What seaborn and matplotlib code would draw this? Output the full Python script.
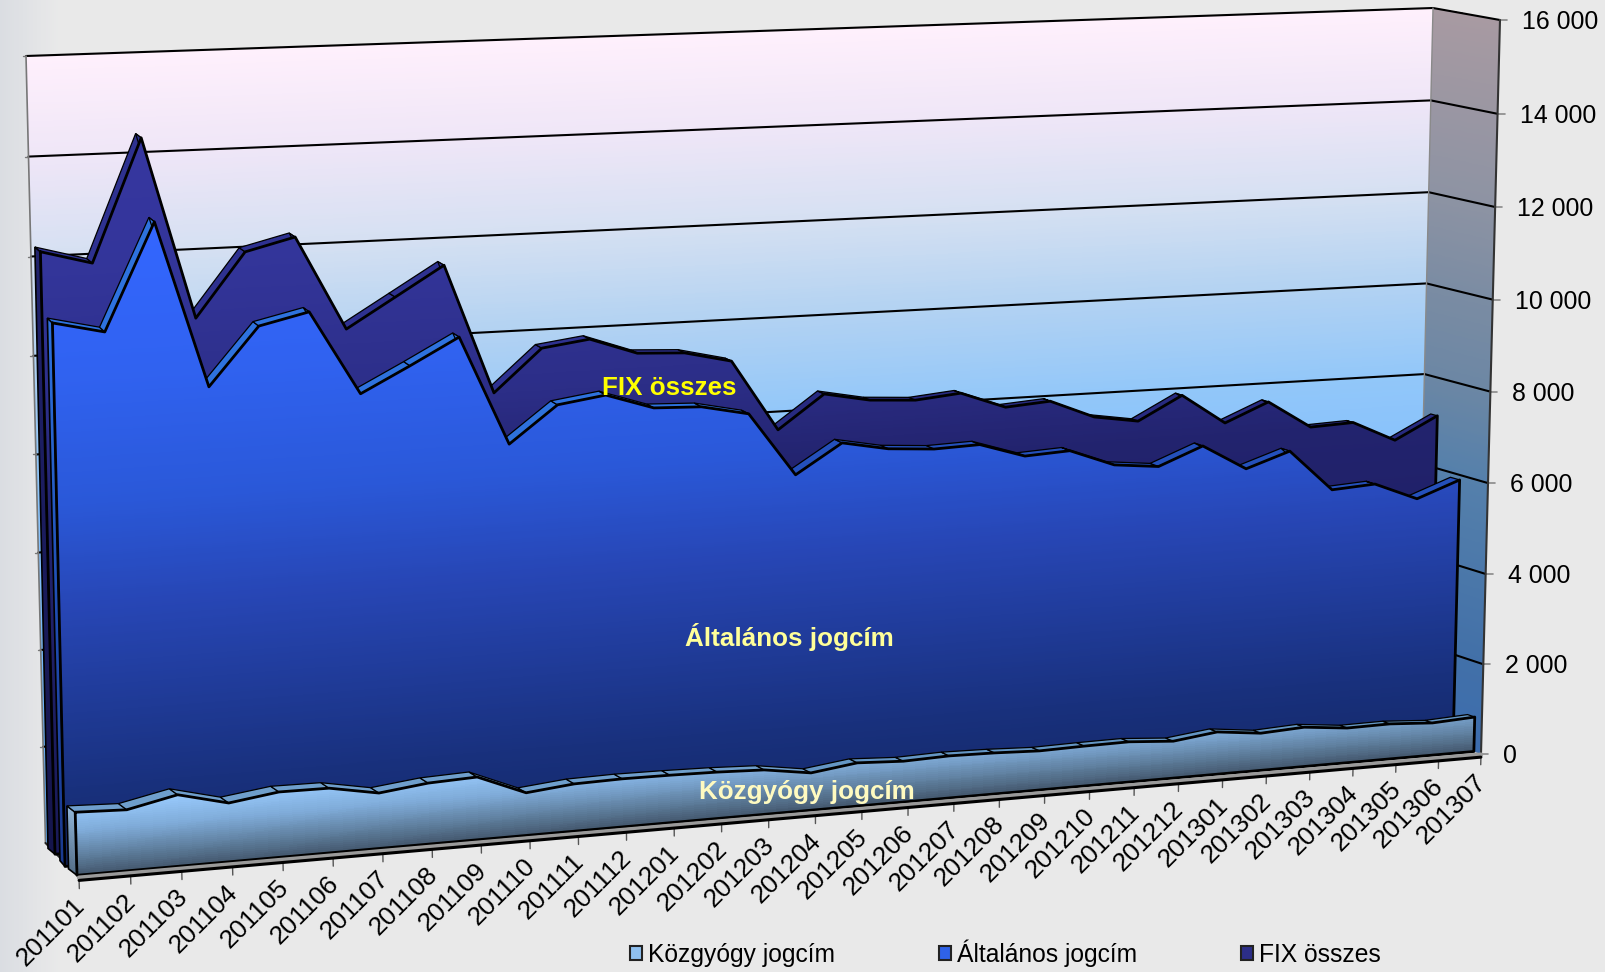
import numpy as np
import seaborn as sns
import matplotlib
matplotlib.use('Agg')
import matplotlib.pyplot as plt
from matplotlib.colors import LinearSegmentedColormap, Normalize
from matplotlib.patches import Patch
from matplotlib.transforms import Transform

# chart values
months = ['201101', '201102', '201103', '201104', '201105', '201106', '201107', '201108',
          '201109', '201110', '201111', '201112', '201201', '201202', '201203', '201204',
          '201205', '201206', '201207', '201208', '201209', '201210', '201211', '201212',
          '201301', '201302', '201303', '201304', '201305', '201306', '201307']
fix_osszes = [12280, 12000, 14460, 10780, 12070, 12320, 10390, 10990,
              11590, 8900, 9770, 9900, 9550, 9500, 9270, 7760,
              8460, 8270, 8210, 8300, 7940, 8010, 7610, 7460,
              7960, 7300, 7700, 7090, 7130, 6680, 7160]
altalanos = [11060, 10820, 12970, 9590, 10760, 10990, 9260, 9770,
             10300, 8030, 8780, 8920, 8590, 8550, 8340, 6990,
             7600, 7410, 7340, 7370, 7060, 7110, 6740, 6640,
             7020, 6460, 6780, 5870, 5930, 5540, 5890]
kozgyogy = [1300, 1260, 1480, 1220, 1360, 1350, 1160, 1280,
            1320, 900, 1000, 1020, 1010, 990, 950, 800,
            930, 880, 910, 890, 850, 870, 880, 810,
            930, 820, 870, 770, 780, 720, 770]
value_ticks = [0, 2000, 4000, 6000, 8000, 10000, 12000, 14000, 16000]
tick_labels = ['0', '2 000', '4 000', '6 000', '8 000', '10 000', '12 000', '14 000', '16 000']


class Plane(Transform):
    """Perspective of the Excel 3D box: (month index, value) to pixels, at a depth 0 (back) to 1 (front)."""
    input_dims = 2
    output_dims = 2

    def __init__(self, z_left, z_right=None):
        super().__init__()
        self.z_left = z_left
        self.z_right = z_left if z_right is None else z_right

    def transform_non_affine(self, values):
        t, v = np.asarray(values, dtype=float).T
        u = (t / 30) * 1.1065 / (1 + 0.00355 * t)
        f = v / 16000
        w = f * 0.975 / (1 - 0.025 * f)
        z = self.z_left + (self.z_right - self.z_left) * u
        # box corners: bottom/top, left/right, back + z * (front - back)
        x_bl = np.interp(z, [0, .16, .33, .52, .69, .76, .95, 1], [45.5, 48, 55, 60, 65, 68.5, 77, 79])
        y_bl = 843 + 34 * z
        x_br, y_br = 1416 + 65 * z, 731 + 23 * z
        x_tl, y_tl = 26 + 30 * z, 56 + 26 * z
        x_tr, y_tr = 1433 + 67 * z, 8 + 12 * z
        x0, y0 = x_bl + (x_br - x_bl) * u, y_bl + (y_br - y_bl) * u
        x1, y1 = x_tl + (x_tr - x_tl) * u, y_tl + (y_tr - y_tl) * u
        return np.column_stack([x0 + (x1 - x0) * w, y0 + (y1 - y0) * w])


def ramp(nodes, vmax):
    return LinearSegmentedColormap.from_list('r', [(v / vmax, c) for v, c in nodes]), Normalize(0, vmax)


sns.set_theme(style='white')
plt.rcParams['font.family'] = ['Liberation Sans', 'DejaVu Sans']
BG = '#e9e9e9'

fig = plt.figure(figsize=(16.06, 9.72), dpi=100, facecolor=BG)
ax = fig.add_axes([0, 0, 1, 1])
ax.set_xlim(0, 1606)
ax.set_ylim(972, 0)
ax.set_autoscale_on(False)
ax.axis('off')

t = np.arange(len(months))
back = Plane(0)
front = Plane(1)


def line(x, y, plane, **kws):
    sns.lineplot(x=x, y=y, transform=plane + ax.transData, estimator=None, sort=False,
                 legend=False, ax=ax, **kws)


def mesh(plane, nodes, vmax, clip=None, zorder=1):
    tt, vv = np.meshgrid(np.linspace(0, 30, 61), np.linspace(0, 16000, 400))
    xy = plane.transform(np.column_stack([tt.ravel(), vv.ravel()]))
    X, Y = xy[:, 0].reshape(tt.shape), xy[:, 1].reshape(tt.shape)
    cmap, norm = ramp(nodes, vmax)
    m = ax.pcolormesh(X, Y, vv[:-1, :-1], cmap=cmap, norm=norm, shading='flat',
                      antialiased=False, edgecolors='none', zorder=zorder)
    if clip is not None:
        m.set_clip_path(clip)
    return m


def depth_mesh(month, z0, z1, nodes, vmax, clip=None, zorder=1):
    # wall running from depth z0 to z1 at one month position
    zz, vv = np.meshgrid(np.linspace(z0, z1, 12), np.linspace(0, 16000, 300))
    xy = np.array([Plane(z).transform([[month, v]])[0] for z, v in zip(zz.ravel(), vv.ravel())])
    cmap, norm = ramp(nodes, vmax)
    m = ax.pcolormesh(xy[:, 0].reshape(zz.shape), xy[:, 1].reshape(zz.shape), vv[:-1, :-1], cmap=cmap,
                      norm=norm, shading='flat', antialiased=False, edgecolors='none', zorder=zorder)
    if clip is not None:
        m.set_clip_path(clip)
    return m


# window background, slightly darker towards the left edge
bg_x = np.linspace(0, 60, 30)
bg = np.tile(bg_x[:-1], (1, 1))
ax.pcolormesh(bg_x, [0, 972], bg, cmap=LinearSegmentedColormap.from_list('b', ['#dadde2', BG]), shading='flat',
              antialiased=False, zorder=0)

# back wall
wall_nodes = [(0, '#5aa8f5'), (6000, '#85c0fc'), (8000, '#92c7f9'), (10000, '#b2d2f2'),
              (12000, '#d5e0f2'), (14000, '#efe6f7'), (16000, '#fff0fc')]
mesh(back, wall_nodes, 16000)

# right side wall
side_nodes = [(0, '#3c6dae'), (2000, '#4270a8'), (6000, '#5580ab'), (8000, '#6c87a4'),
              (10000, '#7b8ca3'), (12000, '#8d93a3'), (16000, '#a89aa2')]
depth_mesh(30, 0, 1, side_nodes, 16000)

# grid lines on both walls
for v in value_ticks[1:]:
    line([0, 30], [v, v], back, color='black', lw=1.5, zorder=2)
    p0, p1 = back.transform([[30, v]])[0], front.transform([[30, v]])[0]
    sns.lineplot(x=[p0[0], p1[0]], y=[p0[1], p1[1]], color='black', lw=1.5, zorder=2, legend=False,
                 estimator=None, sort=False, ax=ax)
    lp = back.transform([[0, v]])[0]
    ax.plot([lp[0] - 3, lp[0]], [lp[1], lp[1]], color='#777777', lw=1, zorder=2)
for v in value_ticks:
    p1 = front.transform([[30, v]])[0]
    ax.plot([p1[0], p1[0] + 7], [p1[1], p1[1]], color='#8a8a8a', lw=1.2, zorder=2)
# box edges
line([0, 0], [0, 16000], back, color='#777777', lw=1.2, zorder=2)
line([30, 30], [0, 16000], back, color='#8a8a8a', lw=1, zorder=2)
line([30, 30], [0, 16000], front, color='#333333', lw=1.5, zorder=2)

# floor plate
corners = np.vstack([back.transform([[0, 0], [30, 0]]), front.transform([[30, 0], [0, 0]])])
ax.fill(corners[:, 0], corners[:, 1], facecolor='#c4c4c4', edgecolor='none', zorder=2)
floor_edge = np.vstack([back.transform([[0, 0]]), front.transform([[0, 0]])])
ax.plot(floor_edge[:, 0], floor_edge[:, 1], color='#222222', lw=1.5, zorder=2)
line([0, 30], [-15, -15], front, color='#9a9a9a', lw=3.2, zorder=8.5)
line([0, 30], [-70, -70], front, color='black', lw=2.2, zorder=9)
for i in t:
    line([i, i], [-70, -240], front, color='#555555', lw=1, zorder=2)

# the three series, back to front
series = [
    ('FIX összes', fix_osszes, (.33, .21), (.16, .11), '#2e3190', '#272a80',
     [(0, '#1a1a58'), (7000, '#22236e'), (9000, '#2c2e88'), (12000, '#33359a'), (14500, '#3636a0')], 14500,
     [(0, '#15154c'), (12300, '#20226c')], 12300),
    ('Általános jogcím', altalanos, (.69, .57), (.52, .43), '#2e72de', '#2450bb',
     [(0, '#152a6c'), (1500, '#18307c'), (5300, '#2746b5'), (7400, '#2a58d8'), (10000, '#3062f0'), (13000, '#3366ff')], 13000,
     [(0, '#1a3a90'), (5000, '#1f4cb0'), (11000, '#2e72de')], 11000),
    ('Közgyógy jogcím', kozgyogy, (.95, .89), (.76, .78), '#6f9fcc', '#6496c4',
     [(0, '#44586e'), (400, '#5f7f9e'), (900, '#7fabd8'), (1500, '#9accff')], 1500,
     [(0, '#56708a'), (1300, '#8fb4d6')], 1300),
]
for n, (name, vals, z_f, z_b, c_hi, c_lo, nodes, vmax, left_nodes, left_max) in enumerate(series):
    zo = 3 + n
    vals = np.asarray(vals, dtype=float)
    plane_f, plane_b = Plane(*z_f), Plane(*z_b)
    top_f = plane_f.transform(np.column_stack([t, vals]))
    top_b = plane_b.transform(np.column_stack([t, vals]))
    base_f = plane_f.transform([[0, 0], [30, 0]])
    base_b = plane_b.transform([[0, 0], [30, 0]])
    # left side
    left = ax.fill([top_b[0, 0], top_f[0, 0], base_f[0, 0], base_b[0, 0]],
                   [top_b[0, 1], top_f[0, 1], base_f[0, 1], base_b[0, 1]],
                   facecolor='none', edgecolor='black', lw=1.2, zorder=zo + 0.1)[0]
    depth_mesh(0, z_b[0], z_f[0], left_nodes, left_max, clip=left, zorder=zo)
    # top faces
    for i in range(len(t) - 1):
        col = c_hi if i < 15 else c_lo
        ax.fill([top_b[i, 0], top_b[i + 1, 0], top_f[i + 1, 0], top_f[i, 0]],
                [top_b[i, 1], top_b[i + 1, 1], top_f[i + 1, 1], top_f[i, 1]],
                facecolor=col, edgecolor='black', lw=0.9, zorder=zo + 0.1)
    # front face with a gradient by value
    poly_t = np.r_[t, 30, 0]
    poly_v = np.r_[vals, 0, 0]
    poly = ax.fill(poly_t, poly_v, transform=plane_f + ax.transData, facecolor='none', edgecolor='none', zorder=zo + 0.2)[0]
    mesh(plane_f, nodes, vmax, clip=poly, zorder=zo + 0.2)
    line(np.r_[poly_t, 0], np.r_[poly_v, vals[0]], plane_f, color='black', lw=2, zorder=zo + 0.3)

# value axis labels
for v, lab in zip(value_ticks, tick_labels):
    ref = front.transform([[30, v]])[0]
    ax.text(ref[0] + 22, ref[1] + 2, lab, fontsize=17.9, color='black', ha='left', va='center', zorder=10)

# month labels
for i, m in zip(t, months):
    ref = front.transform([[i, -240]])[0]
    ax.text(ref[0] - 7, ref[1] + 5, m, fontsize=18.8, color='black', rotation=45, rotation_mode='anchor',
            ha='right', va='top', zorder=10)

# labels inside the areas
ax.text(669, 388, 'FIX összes', fontsize=18.7, fontweight='bold', color='#ffff00', ha='center', va='center', zorder=10)
ax.text(789, 637, 'Általános jogcím', fontsize=18.7, fontweight='bold', color='#ffff99', ha='center', va='center', zorder=10)
ax.text(807, 792, 'Közgyógy jogcím', fontsize=18.7, fontweight='bold', color='#fffac0', ha='center', va='center', zorder=10)

handles = [Patch(facecolor='#8fc0f0', edgecolor='#222222', lw=1.5, label='Közgyógy jogcím'),
           Patch(facecolor='#2f62e8', edgecolor='#222222', lw=1.5, label='Általános jogcím'),
           Patch(facecolor='#2c2e88', edgecolor='#222222', lw=1.5, label='FIX összes')]
ax.legend(handles=handles, ncols=3, frameon=False, fontsize=17.7, loc='center left',
          bbox_to_anchor=(630 / 1606, 1 - 953 / 972), handlelength=0.5, handleheight=0.55,
          handletextpad=0.25, columnspacing=4.2, borderpad=0, borderaxespad=0, labelcolor='black')

fig.savefig('out.png', dpi=100, facecolor=BG)
